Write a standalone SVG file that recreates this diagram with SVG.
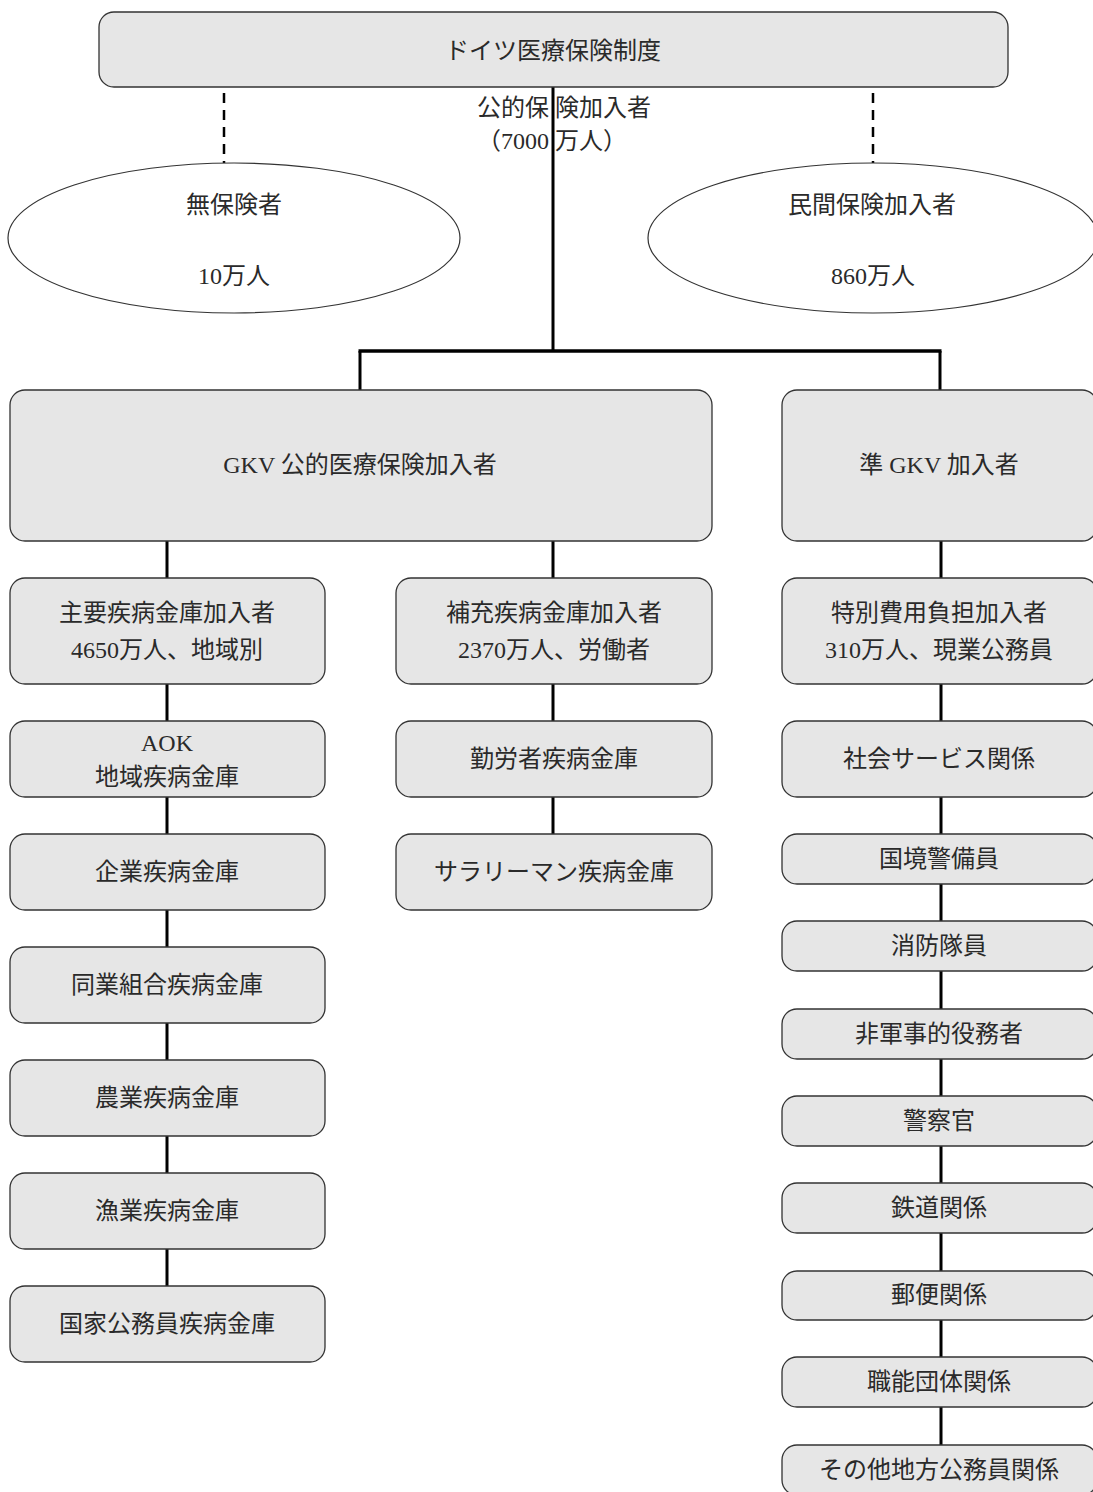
<svg xmlns="http://www.w3.org/2000/svg" width="1093" height="1492" viewBox="0 0 1093 1492">
<style>
.box{fill:#e6e6e6;stroke:#333;stroke-width:1.3}
.ell{fill:#fff;stroke:#333;stroke-width:1.2}
.t{font-family:"Liberation Serif","Noto Sans CJK JP",serif;font-size:24px;fill:#2a2a2a;text-anchor:middle}
.tl{font-family:"Liberation Serif","Noto Sans CJK JP",serif;font-size:24px;fill:#2a2a2a}
.c{fill:none;stroke:#000;stroke-width:3}
.d{fill:none;stroke:#000;stroke-width:2.5;stroke-dasharray:10 7}
</style>
<rect width="1093" height="1492" fill="#fff"/>
<g id="connectors">
<line class="d" x1="224" y1="93" x2="224" y2="163"/>
<line class="d" x1="873" y1="93" x2="873" y2="163"/>
<line class="c" x1="553" y1="87" x2="553" y2="351"/>
<line class="c" x1="358.5" y1="351" x2="941.5" y2="351" style="stroke-width:3.5"/>
<line class="c" x1="360" y1="351" x2="360" y2="390"/>
<line class="c" x1="940" y1="351" x2="940" y2="390"/>
<line class="c" x1="167" y1="541" x2="167" y2="1286"/>
<line class="c" x1="553" y1="541" x2="553" y2="834"/>
<line class="c" x1="941" y1="541" x2="941" y2="1445"/>
</g>
<g id="n-top"><rect class="box" x="99" y="12" width="909" height="75" rx="15"/><text class="t" x="553" y="59">ドイツ医療保険制度</text></g>
<g id="l-public"><text class="tl" x="477" y="116">公的保 険加入者</text><text class="tl" x="477" y="149">（7000 万人）</text></g>
<g id="n-uninsured"><ellipse class="ell" cx="234" cy="238" rx="226" ry="75"/><text class="t" x="234" y="213">無保険者</text><text class="t" x="234" y="284">10万人</text></g>
<g id="n-private"><ellipse class="ell" cx="873" cy="238" rx="225" ry="75"/><text class="t" x="872" y="213">民間保険加入者</text><text class="t" x="873" y="284">860万人</text></g>
<g id="n-gkv"><rect class="box" x="10" y="390" width="702" height="151" rx="15"/><text class="t" x="360" y="473">GKV 公的医療保険加入者</text></g>
<g id="n-qgkv"><rect class="box" x="782" y="390" width="315" height="151" rx="15"/><text class="t" x="939" y="473">準 GKV 加入者</text></g>
<g id="n-main"><rect class="box" x="10" y="578" width="315" height="106" rx="15"/><text class="t" x="167" y="621">主要疾病金庫加入者</text><text class="t" x="167" y="658">4650万人、地域別</text></g>
<g id="n-supp"><rect class="box" x="396" y="578" width="316" height="106" rx="15"/><text class="t" x="554" y="621">補充疾病金庫加入者</text><text class="t" x="554" y="658">2370万人、労働者</text></g>
<g id="n-special"><rect class="box" x="782" y="578" width="315" height="106" rx="15"/><text class="t" x="939" y="621">特別費用負担加入者</text><text class="t" x="939" y="658">310万人、現業公務員</text></g>
<g id="n-aok"><rect class="box" x="10" y="721" width="315" height="76" rx="15"/><text class="t" x="167" y="751">AOK</text><text class="t" x="167" y="785">地域疾病金庫</text></g>
<g id="n-bkk"><rect class="box" x="10" y="834" width="315" height="76" rx="15"/><text class="t" x="167" y="880">企業疾病金庫</text></g>
<g id="n-ikk"><rect class="box" x="10" y="947" width="315" height="76" rx="15"/><text class="t" x="167" y="993">同業組合疾病金庫</text></g>
<g id="n-lkk"><rect class="box" x="10" y="1060" width="315" height="76" rx="15"/><text class="t" x="167" y="1106">農業疾病金庫</text></g>
<g id="n-skk"><rect class="box" x="10" y="1173" width="315" height="76" rx="15"/><text class="t" x="167" y="1219">漁業疾病金庫</text></g>
<g id="n-kbs"><rect class="box" x="10" y="1286" width="315" height="76" rx="15"/><text class="t" x="167" y="1332">国家公務員疾病金庫</text></g>
<g id="n-arb"><rect class="box" x="396" y="721" width="316" height="76" rx="15"/><text class="t" x="554" y="767">勤労者疾病金庫</text></g>
<g id="n-ang"><rect class="box" x="396" y="834" width="316" height="76" rx="15"/><text class="t" x="554" y="880">サラリーマン疾病金庫</text></g>
<g id="n-social"><rect class="box" x="782" y="721" width="315" height="76" rx="15"/><text class="t" x="939" y="767">社会サービス関係</text></g>
<g id="n-border"><rect class="box" x="782" y="834" width="315" height="50" rx="15"/><text class="t" x="939" y="867">国境警備員</text></g>
<g id="n-fire"><rect class="box" x="782" y="921" width="315" height="50" rx="15"/><text class="t" x="939" y="954">消防隊員</text></g>
<g id="n-civil"><rect class="box" x="782" y="1009" width="315" height="50" rx="15"/><text class="t" x="939" y="1042">非軍事的役務者</text></g>
<g id="n-police"><rect class="box" x="782" y="1096" width="315" height="50" rx="15"/><text class="t" x="939" y="1129">警察官</text></g>
<g id="n-rail"><rect class="box" x="782" y="1183" width="315" height="50" rx="15"/><text class="t" x="939" y="1216">鉄道関係</text></g>
<g id="n-post"><rect class="box" x="782" y="1271" width="315" height="49" rx="15"/><text class="t" x="939" y="1303">郵便関係</text></g>
<g id="n-prof"><rect class="box" x="782" y="1357" width="315" height="50" rx="15"/><text class="t" x="939" y="1390">職能団体関係</text></g>
<g id="n-other"><rect class="box" x="782" y="1445" width="315" height="50" rx="15"/><text class="t" x="939" y="1478">その他地方公務員関係</text></g>
</svg>
